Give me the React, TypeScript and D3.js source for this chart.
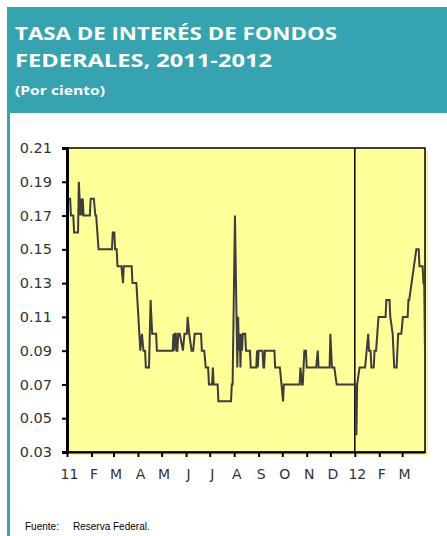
import React, { useEffect, useRef } from 'react';
import * as d3 from 'd3';

// días desde el 1 de enero de 2011 y tasa diaria (por ciento)
const dayOffsets = [
  0, 1, 4, 5, 8, 9, 14, 15, 16, 17, 18, 19, 20, 21, 29, 30, 34, 36, 37, 40,
  57, 58, 60, 61, 63, 64, 69, 71, 72, 82, 83, 88, 93, 95, 97, 99, 100, 104, 106, 107,
  108, 113, 114, 134, 135, 136, 137, 138, 139, 140, 141, 143, 147, 149, 152, 153, 155, 158, 160, 162,
  170, 171, 174, 176, 179, 180, 184, 185, 186, 191, 192, 208, 209, 210, 213, 216, 217, 218, 219, 220,
  221, 222, 223, 226, 227, 232, 233, 240, 241, 242, 243, 248, 249, 250, 251, 263, 264, 270, 274, 275,
  295, 296, 298, 299, 301, 303, 304, 316, 318, 319, 333, 334, 336, 339, 342, 366, 367, 368, 371, 378,
  380, 382, 383, 385, 386, 389, 390, 392, 395, 404, 405, 409, 410, 413, 415, 418, 420, 424, 426, 432,
  433, 434, 443, 446, 447, 451, 452, 453, 454,
];
const rates = [
  0.19, 0.18, 0.18, 0.17, 0.17, 0.16, 0.16, 0.19, 0.18, 0.17, 0.18, 0.17, 0.18, 0.17, 0.17, 0.18, 0.18, 0.17, 0.17, 0.15,
  0.15, 0.16, 0.16, 0.15, 0.15, 0.14, 0.14, 0.13, 0.14, 0.14, 0.13, 0.13, 0.09, 0.10, 0.09, 0.09, 0.08, 0.08, 0.12, 0.11,
  0.10, 0.10, 0.09, 0.09, 0.10, 0.09, 0.10, 0.10, 0.09, 0.09, 0.10, 0.10, 0.09, 0.10, 0.10, 0.11, 0.10, 0.09, 0.09, 0.10,
  0.10, 0.09, 0.09, 0.08, 0.08, 0.07, 0.07, 0.08, 0.07, 0.07, 0.06, 0.06, 0.07, 0.07, 0.17, 0.08, 0.11, 0.09, 0.10, 0.08,
  0.10, 0.09, 0.10, 0.10, 0.09, 0.09, 0.08, 0.08, 0.09, 0.08, 0.09, 0.09, 0.08, 0.08, 0.09, 0.09, 0.08, 0.08, 0.06, 0.07,
  0.07, 0.08, 0.07, 0.07, 0.09, 0.09, 0.08, 0.08, 0.09, 0.08, 0.08, 0.10, 0.08, 0.08, 0.07, 0.07, 0.04, 0.07, 0.08, 0.08,
  0.09, 0.10, 0.09, 0.09, 0.08, 0.08, 0.09, 0.09, 0.11, 0.11, 0.12, 0.12, 0.11, 0.10, 0.08, 0.08, 0.10, 0.10, 0.11, 0.11,
  0.12, 0.12, 0.15, 0.15, 0.14, 0.14, 0.13, 0.13, 0.09,
];

const monthLabels = ['11', 'F', 'M', 'A', 'M', 'J', 'J', 'A', 'S', 'O', 'N', 'D', '12', 'F', 'M'];
const yTicks = [0.03, 0.05, 0.07, 0.09, 0.11, 0.13, 0.15, 0.17, 0.19, 0.21];

const start = new Date(2011, 0, 1);
const end = d3.timeDay.offset(start, 454);

const App: React.FC = () => {
  const svgRef = useRef<SVGSVGElement>(null);

  useEffect(() => {
    document.body.style.margin = '0';
    if (!svgRef.current) return;
    const svg = d3.select(svgRef.current);
    svg.selectAll('*').remove();

    const teal = '#36a3b0';
    const left = 67, right = 425, top = 148, bottom = 452;

    // encabezado
    svg.append('rect').attr('x', 7).attr('y', 7).attr('width', 440).attr('height', 106).attr('fill', teal);
    svg.append('rect').attr('x', 7).attr('y', 113).attr('width', 3).attr('height', 423).attr('fill', teal);

    const title = svg.append('g').attr('fill', '#fff').attr('font-family', '"Open Sans", sans-serif').attr('font-weight', 700);
    title.append('text').attr('x', 15).attr('y', 40).attr('font-size', 18.5)
      .attr('textLength', 322).attr('lengthAdjust', 'spacingAndGlyphs').text('TASA DE INTERÉS DE FONDOS');
    title.append('text').attr('x', 15).attr('y', 67).attr('font-size', 18.5)
      .attr('textLength', 257).attr('lengthAdjust', 'spacingAndGlyphs').text('FEDERALES, 2011-2012');
    title.append('text').attr('x', 15).attr('y', 95).attr('font-size', 13)
      .attr('textLength', 90).attr('lengthAdjust', 'spacingAndGlyphs').text('(Por ciento)');

    // escalas
    const x = d3.scaleTime().domain([start, end]).range([left, right]);
    const y = d3.scaleLinear().domain([0.03, 0.21]).range([bottom, top]);

    // fondo amarillo con sombra
    svg.append('rect').attr('x', left + 3).attr('y', top + 3).attr('width', right - left).attr('height', bottom - top)
      .attr('fill', '#f6f2a0');
    svg.append('rect').attr('x', left).attr('y', top).attr('width', right - left).attr('height', bottom - top)
      .attr('fill', '#ffff99').attr('stroke', '#000').attr('stroke-width', 1.5);

    // línea de enero 2012
    const jan12 = x(new Date(2012, 0, 1));
    svg.append('line').attr('x1', jan12).attr('x2', jan12).attr('y1', top).attr('y2', bottom)
      .attr('stroke', '#000').attr('stroke-width', 1.5);

    // serie
    const points = dayOffsets.map((d, i) => [d3.timeDay.offset(start, d), rates[i]] as [Date, number]);
    const line = d3.line<[Date, number]>().x(d => x(d[0])).y(d => y(d[1]));
    svg.append('path').datum(points).attr('d', line).attr('fill', 'none')
      .attr('stroke', '#3d3d3d').attr('stroke-width', 2).attr('stroke-linejoin', 'miter');

    // eje y
    const yAxis = svg.append('g').attr('transform', `translate(${left},0)`)
      .call(d3.axisLeft(y).tickValues(yTicks).tickFormat(d3.format('.2f')).tickSize(5).tickPadding(10));
    yAxis.select('.domain').attr('stroke-width', 3);
    yAxis.selectAll('text').attr('font-family', '"DejaVu Sans", sans-serif').attr('font-size', 14.5).attr('fill', '#333');
    yAxis.selectAll('.tick line').attr('stroke-width', 2);

    // eje x
    const months = d3.timeMonth.range(start, end);
    const xAxis = svg.append('g').attr('transform', `translate(0,${bottom})`)
      .call(d3.axisBottom(x).tickValues(months).tickFormat((_, i) => monthLabels[i]).tickSize(5).tickSizeOuter(0).tickPadding(12));
    xAxis.select('.domain').attr('stroke-width', 2);
    xAxis.selectAll('.tick line').attr('stroke-width', 2);
    xAxis.selectAll('text').attr('font-family', '"DejaVu Sans", sans-serif').attr('font-size', 14).attr('fill', '#333').attr('dx', 2);

    // fuente
    const src = svg.append('g').attr('font-family', '"Liberation Sans", sans-serif').attr('font-size', 10).attr('fill', '#000');
    src.append('text').attr('x', 25).attr('y', 530).text('Fuente:');
    src.append('text').attr('x', 73).attr('y', 530).text('Reserva Federal.');
  }, []);

  return <svg ref={svgRef} width={447} height={536} style={{ display: 'block' }} />;
};

export default App;
